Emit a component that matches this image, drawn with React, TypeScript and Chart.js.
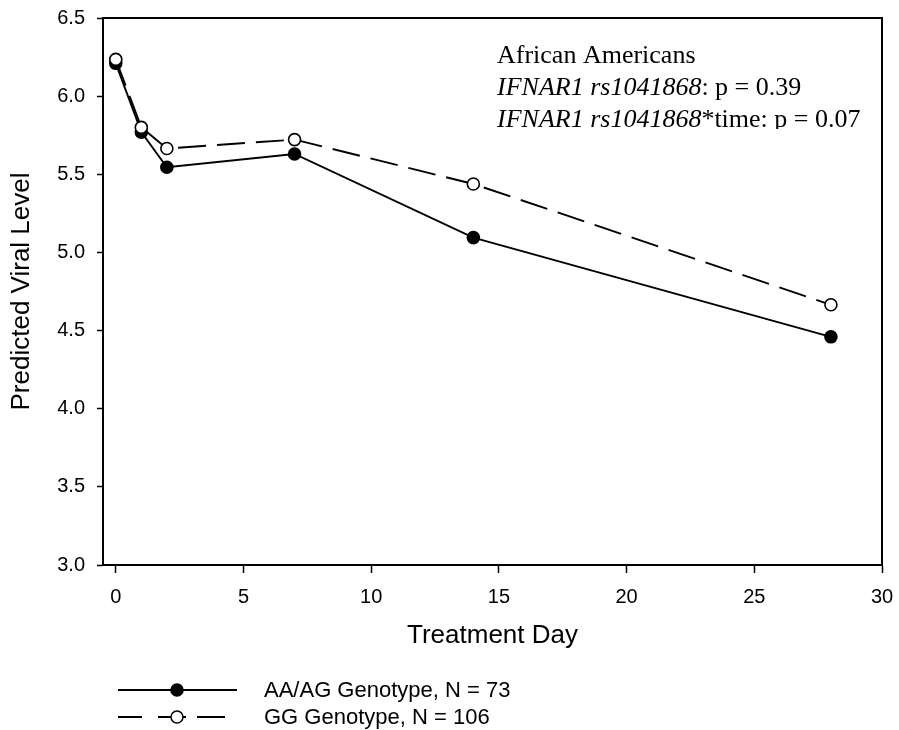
import React, { useEffect, useRef } from "react";
import { Chart, registerables } from "chart.js";

Chart.register(...registerables);

const DAYS = [0, 1, 2, 7, 14, 28];
const AA_AG = [6.21, 5.77, 5.545, 5.63, 5.095, 4.46];
const GG = [6.235, 5.8, 5.665, 5.722, 5.438, 4.665];
const X_TICKS = [0, 5, 10, 15, 20, 25, 30];
const Y_TICKS = [3.0, 3.5, 4.0, 4.5, 5.0, 5.5, 6.0, 6.5];
const SERIES_LABELS = ["AA/AG Genotype, N = 73", "GG Genotype, N = 106"];
const ANNOTATION_TITLE = "African Americans";
const ANNOT_GENE = "IFNAR1 rs1041868";
const ANNOT_P1 = ": p = 0.39";
const ANNOT_P2 = "*time: p = 0.07";

const DASH = [28, 11];

const overlayPlugin = {
  id: "overlay",
  afterDraw(chart: any) {
    const ctx = chart.ctx as CanvasRenderingContext2D;
    const a = chart.chartArea;
    ctx.save();
    // frame top and right
    ctx.strokeStyle = "#000";
    ctx.lineWidth = 2;
    ctx.beginPath();
    ctx.moveTo(a.left, a.top);
    ctx.lineTo(a.right, a.top);
    ctx.lineTo(a.right, a.bottom);
    ctx.stroke();

    // annotation (clipped at bottom as in the original)
    ctx.save();
    ctx.beginPath();
    ctx.rect(480, 20, 395, 109);
    ctx.clip();
    ctx.fillStyle = "#000";
    ctx.textBaseline = "alphabetic";
    ctx.textAlign = "left";
    const ax = 497;
    const serif = "'Liberation Serif', 'Times New Roman', serif";
    ctx.font = `26px ${serif}`;
    ctx.fillText(ANNOTATION_TITLE, ax, 63);
    const lines = [
      { y: 95, rest: ANNOT_P1 },
      { y: 127, rest: ANNOT_P2 },
    ];
    for (const l of lines) {
      ctx.font = `italic 26px ${serif}`;
      ctx.fillText(ANNOT_GENE, ax, l.y);
      const w = ctx.measureText(ANNOT_GENE).width;
      ctx.font = `26px ${serif}`;
      ctx.fillText(l.rest, ax + w, l.y);
    }
    ctx.restore();

    // legend
    const rows = [
      { y: 690, fill: "#000" },
      { y: 717, fill: "#fff" },
    ];
    rows.forEach((r, i) => {
      ctx.strokeStyle = "#000";
      ctx.lineWidth = 1.8;
      ctx.setLineDash([]);
      ctx.beginPath();
      if (i === 0) {
        ctx.moveTo(118, r.y);
        ctx.lineTo(237, r.y);
      } else {
        const segs = [
          [118, 142],
          [158, 186],
          [197, 225],
        ];
        for (const s of segs) {
          ctx.moveTo(s[0], r.y);
          ctx.lineTo(s[1], r.y);
        }
      }
      ctx.stroke();
      ctx.beginPath();
      ctx.arc(177, r.y, 6, 0, Math.PI * 2);
      ctx.fillStyle = r.fill;
      ctx.fill();
      ctx.lineWidth = 1.5;
      ctx.stroke();
      ctx.fillStyle = "#000";
      ctx.font = "22px 'Liberation Sans', Arial, sans-serif";
      ctx.textBaseline = "middle";
      ctx.fillText(SERIES_LABELS[i], 264, r.y + 1);
    });
    ctx.restore();
  },
};

export default function App() {
  const ref = useRef<HTMLCanvasElement | null>(null);
  useEffect(() => {
    document.body.style.margin = "0";
    const canvas = ref.current!;
    const font = "'Liberation Sans', Arial, sans-serif";
    const chart = new Chart(canvas, {
      type: "line",
      data: {
        datasets: [
          {
            label: SERIES_LABELS[1],
            data: DAYS.map((d, i) => ({ x: d, y: GG[i] })),
            borderColor: "#000",
            borderWidth: 1.9,
            borderDash: DASH,
            pointRadius: 6,
            pointBackgroundColor: "#fff",
            pointBorderColor: "#000",
            pointBorderWidth: 1.6,
            tension: 0,
            fill: false,
          },
          {
            label: SERIES_LABELS[0],
            data: DAYS.map((d, i) => ({ x: d, y: AA_AG[i] })),
            borderColor: "#000",
            borderWidth: 1.9,
            pointRadius: 6,
            pointBackgroundColor: "#000",
            pointBorderColor: "#000",
            pointBorderWidth: 1.6,
            tension: 0,
            fill: false,
          },
        ],
      },
      options: {
        animation: false,
        responsive: false,
        maintainAspectRatio: false,
        layout: { padding: { left: 0, top: 18, right: 17, bottom: 79 } },
        plugins: {
          legend: { display: false },
          tooltip: { enabled: false },
          title: { display: false },
        },
        scales: {
          x: {
            type: "linear",
            min: -0.5,
            max: 30,
            afterFit: (s: any) => {
              s.height = 86;
              s.paddingLeft = 0;
              s.paddingRight = 0;
            },
            afterBuildTicks: (s: any) => {
              s.ticks = X_TICKS.map((v) => ({ value: v }));
            },
            grid: {
              display: true,
              drawOnChartArea: false,
              drawTicks: true,
              tickLength: 8,
              tickWidth: 1.5,
              tickColor: "#000",
            },
            border: { display: true, color: "#000", width: 2 },
            ticks: {
              color: "#000",
              font: { family: font, size: 20 },
              padding: 12,
              maxRotation: 0,
              autoSkip: false,
            },
            title: {
              display: true,
              text: "Treatment Day",
              color: "#000",
              font: { family: font, size: 26 },
              padding: { top: 0, bottom: 0 },
            },
          },
          y: {
            type: "linear",
            min: 3,
            max: 6.5,
            afterFit: (s: any) => {
              s.width = 103;
              s.paddingTop = 0;
              s.paddingBottom = 0;
            },
            afterBuildTicks: (s: any) => {
              s.ticks = Y_TICKS.map((v) => ({ value: v }));
            },
            grid: {
              display: true,
              drawOnChartArea: false,
              drawTicks: true,
              tickLength: 6,
              tickWidth: 1.5,
              tickColor: "#000",
            },
            border: { display: true, color: "#000", width: 2 },
            ticks: {
              color: "#000",
              font: { family: font, size: 20 },
              padding: 12,
              callback: (v: any) => Number(v).toFixed(1),
            },
            title: {
              display: true,
              text: "Predicted Viral Level",
              color: "#000",
              font: { family: font, size: 26 },
              padding: { top: 6, bottom: 0 },
            },
          },
        },
      },
      plugins: [overlayPlugin],
    });
    return () => chart.destroy();
  }, []);
  return (
    <div style={{ width: 899, height: 730, background: "#fff" }}>
      <canvas ref={ref} width={899} height={730} style={{ display: "block" }} />
    </div>
  );
}
